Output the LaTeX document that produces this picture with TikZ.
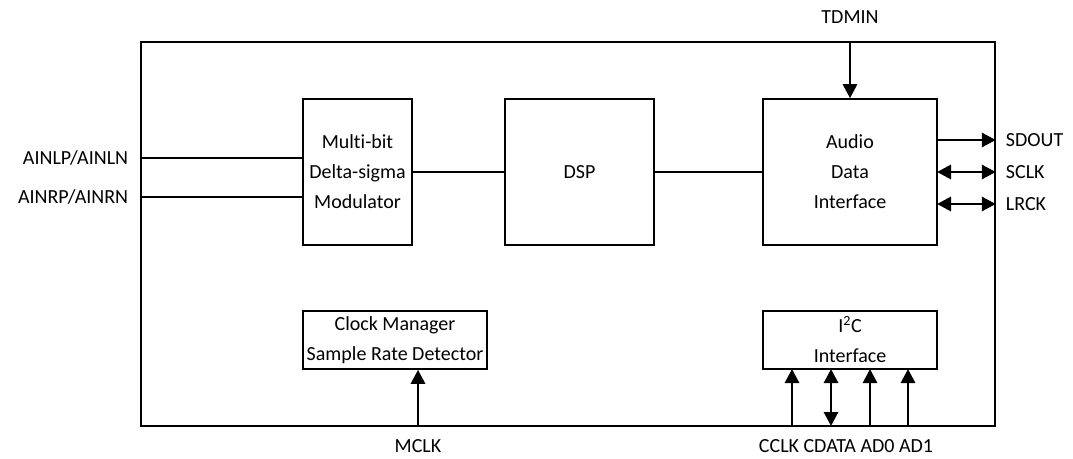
\documentclass[tikz,border=0pt]{standalone}
\usepackage{fontspec}
\setmainfont{Carlito}[Ligatures=NoCommon]
\usetikzlibrary{arrows.meta}
\usetikzlibrary{positioning}
\usetikzlibrary{calc}

\begin{document}
\begin{tikzpicture}[
    x=0.75pt, y=-0.75pt,
    font=\fontsize{15}{22.5}\selectfont,
    >={Triangle[length=10.5pt, width=10.5pt]},
    block/.style={draw, line width=1.2pt, inner sep=0pt, align=center},
    wire/.style={line width=1.2pt},
    sig/.style={line width=2.2pt},
    pin/.style={inner sep=2pt}
]
    \useasboundingbox (0,0) rectangle (1073,459);

    % chip outline
    \node[block, minimum width=640.5pt, minimum height=288pt] (chip) at (568,234) {};

    % signal path
    \node[block, minimum width=81.75pt, minimum height=109.5pt] (mod) at (357.5,172)
        {Multi-bit\\Delta-sigma\\Modulator};
    \node[block, minimum width=111.75pt, minimum height=109.5pt] (dsp) at (579.5,172) {DSP};
    \node[block, minimum width=130.5pt, minimum height=109.5pt] (adi) at (850,172)
        {Audio\\Data\\Interface};

    \draw[wire] (mod.east) -- (dsp.west);
    \draw[wire] (dsp.east) -- (adi.west);

    % control blocks
    \node[block, minimum width=138pt, minimum height=43.5pt] (clk) at (395,340)
        {Clock Manager\\Sample Rate Detector};
    \node[block, minimum width=130.5pt, minimum height=43.5pt] (i2c) at (850,340)
        {I\textsuperscript{2}C\\Interface};

    % analog inputs
    \coordinate (ainl) at (141,158);
    \coordinate (ainr) at (141,197);
    \node[pin, anchor=east] (ainlp) at (131,158) {AINLP/AINLN};
    \node[pin, anchor=east] (ainrp) at (131,197) {AINRP/AINRN};
    \draw[wire] (ainl) -- (ainl -| mod.west);
    \draw[wire] (ainr) -- (ainr -| mod.west);

    % audio interface pins
    \node (tdmin) at (850,17) {TDMIN};
    \draw[sig, ->] (adi.north |- chip.north) -- (adi.north);

    \coordinate (sdo) at (937,140);
    \coordinate (sck) at (937,172);
    \coordinate (lrk) at (937,204);
    \node[pin, anchor=west] (sdout) at (1003,140) {SDOUT};
    \node[pin, anchor=west] (sclk) at (1003,172) {SCLK};
    \node[pin, anchor=west] (lrck) at (1003,204) {LRCK};
    \draw[sig, ->] (sdo) -- (sdo -| chip.east);
    \draw[sig, <->] (sck) -- (sck -| chip.east);
    \draw[sig, <->] (lrk) -- (lrk -| chip.east);

    % clock input
    \node (mclk) at (418,446) {MCLK};
    \coordinate (mck) at (418,426);
    \draw[sig, ->] (mck) -- (mck |- clk.south);

    % control port
    \node (ctrl) at (846,446) {CCLK CDATA AD0 AD1};
    \foreach \px/\tip in {792/->, 831/<->, 870/->, 908/->}
        \draw[sig, \tip] (\px,426) -- (\px,369);
\end{tikzpicture}
\end{document}
